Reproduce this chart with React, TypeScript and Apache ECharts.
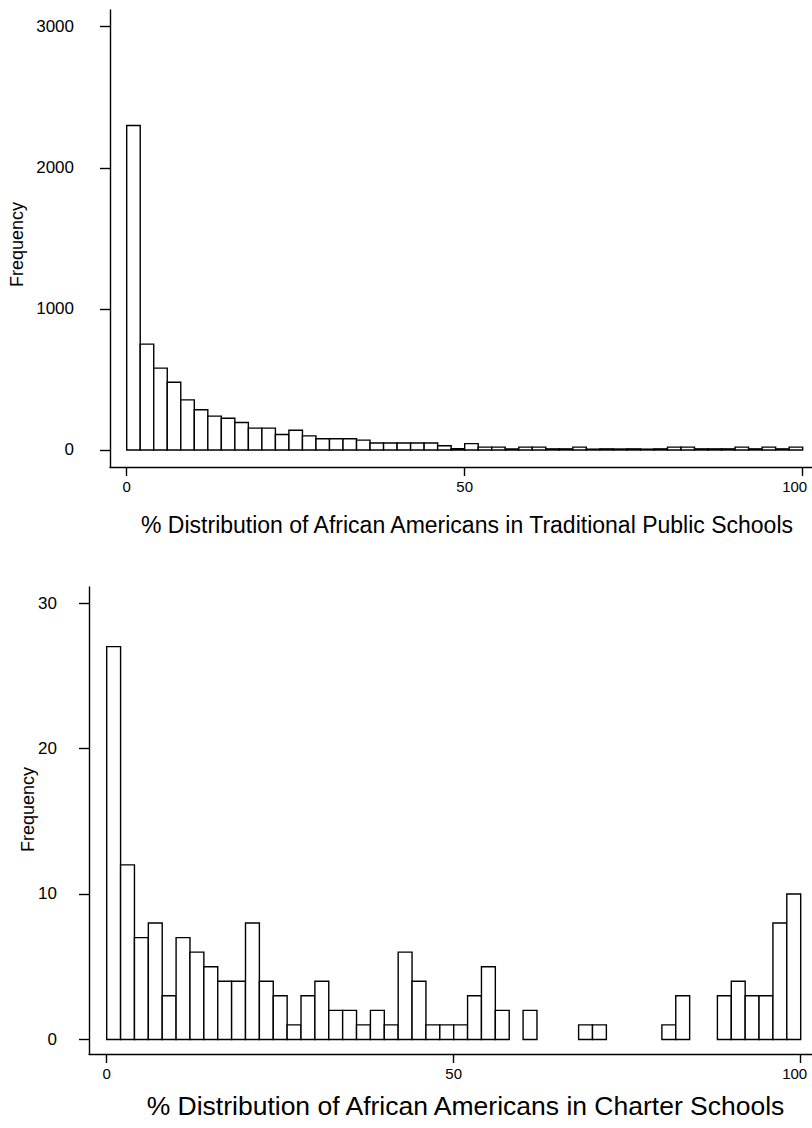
import React, { useEffect, useRef } from "react";
import * as echarts from "echarts";

// Histogram bins: width 2 percentage points, 0..100
const BIN_WIDTH = 2;

// Traditional public schools: frequency per 2-point bin
const publicCounts = [
  2300, 750, 580, 480, 355, 285, 240, 225, 195, 155,
  155, 110, 140, 100, 80, 80, 80, 70, 50, 50,
  50, 50, 50, 30, 10, 45, 20, 20, 8, 20,
  20, 8, 8, 20, 6, 8, 7, 8, 6, 8,
  20, 20, 8, 8, 8, 20, 8, 20, 8, 20,
];

// Charter schools: frequency per 2-point bin
const charterCounts = [
  27, 12, 7, 8, 3, 7, 6, 5, 4, 4,
  8, 4, 3, 1, 3, 4, 2, 2, 1, 2,
  1, 6, 4, 1, 1, 1, 3, 5, 2, 0,
  2, 0, 0, 0, 1, 1, 0, 0, 0, 0,
  1, 3, 0, 0, 3, 4, 3, 3, 8, 10,
];

const xTicks = [0, 50, 100];
const publicYTicks = [0, 1000, 2000, 3000];
const charterYTicks = [0, 10, 20, 30];

const publicTitle = "% Distribution of African Americans in Traditional Public Schools";
const charterTitle = "% Distribution of African Americans in Charter Schools";
const yTitle = "Frequency";

const FONT = "'Liberation Sans', Arial, Helvetica, sans-serif";
const LW = 1.4;

function toBins(counts: number[]) {
  return counts.map((c, i) => [i * BIN_WIDTH, (i + 1) * BIN_WIDTH, c]);
}

function renderBar(params: any, api: any) {
  const v = api.value(2);
  if (!v) return null;
  const p0 = api.coord([api.value(0), 0]);
  const p1 = api.coord([api.value(1), v]);
  return {
    type: "rect",
    shape: { x: p0[0], y: p1[1], width: p1[0] - p0[0], height: p0[1] - p1[1] },
    style: { fill: "#ffffff", stroke: "#000000", lineWidth: LW },
  };
}

const plain = (v: number) => String(v);
// the last tick label sits slightly left of its tick so that it stays inside the page
const lastShifted = (v: number) => (v === 100 ? "{r|100}" : String(v));

function xAxisOpt(
  gridIndex: number,
  min: number,
  max: number,
  name: string,
  nameGap: number,
  nameSize: number,
  namePad: number[],
  lastPad: number
) {
  return {
    type: "value",
    gridIndex,
    min,
    max,
    position: "bottom",
    axisLine: { show: true, onZero: false, lineStyle: { color: "#000", width: LW } },
    axisTick: { show: true, length: 9, customValues: xTicks, lineStyle: { color: "#000", width: LW } },
    axisLabel: {
      customValues: xTicks,
      formatter: lastShifted,
      color: "#000",
      fontSize: 15,
      fontFamily: FONT,
      margin: 12,
      rich: { r: { fontSize: 15, fontFamily: FONT, color: "#000", padding: [0, lastPad, 0, 0] } },
    },
    splitLine: { show: false },
    name,
    nameLocation: "middle",
    nameGap,
    nameMoveOverlap: false,
    nameTextStyle: { color: "#000", fontSize: nameSize, fontFamily: FONT, padding: namePad },
  };
}

function yAxisOpt(
  gridIndex: number,
  min: number,
  max: number,
  ticks: number[],
  margin: number,
  nameGap: number,
  namePad: number[]
) {
  return {
    type: "value",
    gridIndex,
    min,
    max,
    axisLine: { show: true, onZero: false, lineStyle: { color: "#000", width: LW } },
    axisTick: { show: true, length: 10, customValues: ticks, lineStyle: { color: "#000", width: LW } },
    axisLabel: { customValues: ticks, formatter: plain, color: "#000", fontSize: 17, fontFamily: FONT, margin },
    splitLine: { show: false },
    name: yTitle,
    nameLocation: "middle",
    nameGap,
    nameMoveOverlap: false,
    nameTextStyle: { color: "#000", fontSize: 18, fontFamily: FONT, padding: namePad },
  };
}

export default function App() {
  const ref = useRef<HTMLDivElement>(null);

  useEffect(() => {
    if (!ref.current) return;
    const chart = echarts.init(ref.current, undefined, { renderer: "svg" });
    chart.setOption({
      animation: false,
      backgroundColor: "#ffffff",
      grid: [
        { left: 110, top: 10, width: 702, height: 457, outerBoundsMode: "none", containLabel: false },
        { left: 89, top: 587, width: 723, height: 467, outerBoundsMode: "none", containLabel: false },
      ],
      xAxis: [
        xAxisOpt(0, -2.47, 101.38, publicTitle, 46, 23, [0, 0, 0, 12], 16),
        xAxisOpt(1, -2.55, 101.63, charterTitle, 38, 26.5, [0, 0, 0, 30], 12),
      ],
      yAxis: [
        yAxisOpt(0, -120.5, 3118, publicYTicks, 36, 84, [0, 12, 0, 0]),
        yAxisOpt(1, -1.0, 31.1, charterYTicks, 32, 52, [0, 0, 0, 22]),
      ],
      series: [
        {
          type: "custom",
          xAxisIndex: 0,
          yAxisIndex: 0,
          renderItem: renderBar,
          encode: { x: [0, 1], y: 2 },
          data: toBins(publicCounts),
          clip: false,
        },
        {
          type: "custom",
          xAxisIndex: 1,
          yAxisIndex: 1,
          renderItem: renderBar,
          encode: { x: [0, 1], y: 2 },
          data: toBins(charterCounts),
          clip: false,
        },
      ],
    });
    return () => chart.dispose();
  }, []);

  return (
    <div
      ref={ref}
      style={{ position: "absolute", left: 0, top: 0, width: 812, height: 1128, background: "#fff" }}
    />
  );
}
